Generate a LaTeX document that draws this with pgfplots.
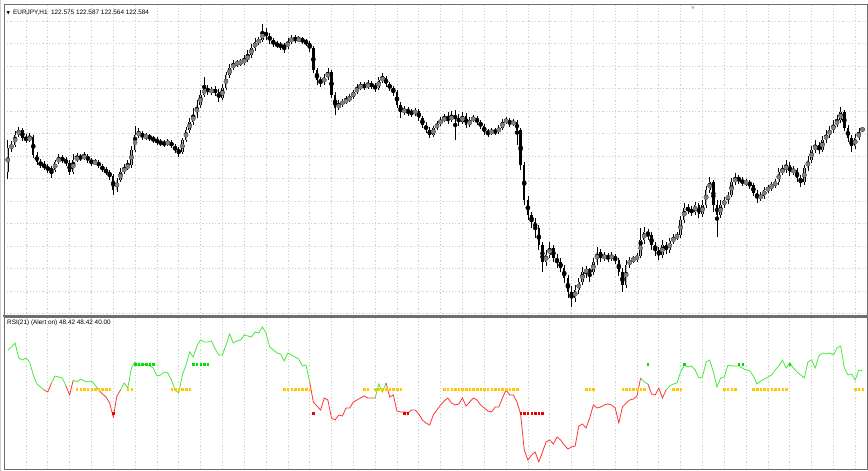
\documentclass[border=0pt]{standalone}
\usepackage{pgfplots}
\pgfplotsset{compat=1.18}
\usepackage{pgfplotstable}
\usepackage{fontspec}
\setmainfont{Liberation Sans}
\newfontfamily\dejavu{DejaVu Sans}

\definecolor{rsigreen}{RGB}{70,235,60}
\definecolor{rsired}{RGB}{255,55,55}
\definecolor{dotyellow}{RGB}{255,200,0}
\definecolor{dotgreen}{RGB}{0,225,0}
\definecolor{dotred}{RGB}{235,0,0}
\definecolor{frame}{RGB}{110,110,110}

% EURJPY H1 bars: bar index, open, high, low, close
\pgfplotstableread{
x o h l c
0 122.15 122.47 122.08 122.39
1 122.39 122.46 122.35 122.42
2 122.42 122.56 122.40 122.52
3 122.52 122.60 122.50 122.57
4 122.57 122.59 122.46 122.49
5 122.49 122.53 122.44 122.47
6 122.47 122.54 122.45 122.50
7 122.50 122.52 122.29 122.32
8 122.32 122.35 122.22 122.25
9 122.25 122.28 122.19 122.22
10 122.22 122.26 122.17 122.20
11 122.20 122.23 122.14 122.17
12 122.17 122.21 122.09 122.17
13 122.17 122.27 122.15 122.25
14 122.25 122.33 122.23 122.29
15 122.29 122.32 122.24 122.27
16 122.27 122.30 122.21 122.24
17 122.24 122.27 122.12 122.15
18 122.15 122.33 122.13 122.27
19 122.27 122.34 122.25 122.30
20 122.30 122.33 122.26 122.29
21 122.29 122.35 122.27 122.31
22 122.31 122.33 122.24 122.27
23 122.27 122.29 122.21 122.24
24 122.24 122.28 122.22 122.25
25 122.25 122.27 122.19 122.21
26 122.21 122.23 122.15 122.17
27 122.17 122.20 122.12 122.15
28 122.15 122.17 122.07 122.11
29 122.11 122.13 121.92 121.97
30 121.97 122.09 121.95 122.07
31 122.07 122.19 122.05 122.15
32 122.15 122.23 122.13 122.19
33 122.19 122.27 122.17 122.22
34 122.22 122.41 122.19 122.37
35 122.37 122.61 122.35 122.52
36 122.52 122.59 122.49 122.54
37 122.54 122.56 122.47 122.50
38 122.50 122.54 122.47 122.51
39 122.51 122.53 122.46 122.49
40 122.49 122.51 122.44 122.47
41 122.47 122.50 122.42 122.45
42 122.45 122.48 122.41 122.44
43 122.44 122.47 122.40 122.43
44 122.43 122.48 122.41 122.45
45 122.45 122.47 122.39 122.41
46 122.41 122.43 122.34 122.37
47 122.37 122.40 122.30 122.35
48 122.35 122.49 122.33 122.47
49 122.47 122.60 122.45 122.57
50 122.57 122.69 122.54 122.65
51 122.65 122.79 122.62 122.72
52 122.72 122.87 122.69 122.82
53 122.82 122.97 122.79 122.92
54 122.92 123.10 122.90 122.99
55 122.99 123.02 122.92 122.95
56 122.95 123.00 122.92 122.97
57 122.97 123.01 122.91 122.95
58 122.95 122.98 122.85 122.89
59 122.89 123.03 122.87 122.99
60 122.99 123.15 122.97 123.12
61 123.12 123.23 123.09 123.19
62 123.19 123.27 123.17 123.23
63 123.23 123.27 123.20 123.24
64 123.24 123.28 123.21 123.25
65 123.25 123.32 123.22 123.27
66 123.27 123.37 123.25 123.32
67 123.32 123.43 123.29 123.39
68 123.39 123.49 123.36 123.45
69 123.45 123.50 123.42 123.47
70 123.47 123.63 123.45 123.55
71 123.55 123.59 123.47 123.51
72 123.51 123.54 123.43 123.47
73 123.47 123.49 123.40 123.43
74 123.43 123.46 123.39 123.42
75 123.42 123.45 123.37 123.41
76 123.41 123.44 123.34 123.40
77 123.40 123.49 123.38 123.45
78 123.45 123.52 123.43 123.49
79 123.49 123.52 123.44 123.47
80 123.47 123.51 123.45 123.48
81 123.48 123.50 123.43 123.46
82 123.46 123.48 123.41 123.44
83 123.44 123.46 123.35 123.39
84 123.39 123.41 123.14 123.17
85 123.17 123.19 123.02 123.07
86 123.07 123.10 123.00 123.05
87 123.05 123.13 123.02 123.09
88 123.09 123.19 123.07 123.15
89 123.15 123.17 122.89 122.92
90 122.92 122.95 122.72 122.79
91 122.79 122.87 122.77 122.83
92 122.83 122.88 122.80 122.85
93 122.85 122.91 122.83 122.87
94 122.87 122.93 122.85 122.90
95 122.90 122.97 122.88 122.95
96 122.95 123.03 122.93 122.99
97 122.99 123.05 122.97 123.02
98 123.02 123.05 122.97 123.00
99 123.00 123.07 122.98 123.03
100 123.03 123.06 122.98 123.01
101 123.01 123.04 122.95 122.99
102 122.99 123.10 122.97 123.07
103 123.07 123.14 123.04 123.09
104 123.09 123.11 123.00 123.03
105 123.03 123.05 122.96 122.99
106 122.99 123.01 122.91 122.95
107 122.95 122.97 122.79 122.82
108 122.82 122.85 122.69 122.75
109 122.75 122.81 122.72 122.77
110 122.77 122.80 122.71 122.75
111 122.75 122.78 122.70 122.74
112 122.74 122.79 122.71 122.76
113 122.76 122.78 122.66 122.69
114 122.69 122.71 122.59 122.62
115 122.62 122.65 122.54 122.57
116 122.57 122.60 122.49 122.52
117 122.52 122.61 122.50 122.59
118 122.59 122.66 122.57 122.63
119 122.63 122.70 122.61 122.67
120 122.67 122.73 122.65 122.69
121 122.69 122.75 122.63 122.67
122 122.67 122.76 122.65 122.71
123 122.71 122.77 122.47 122.69
124 122.69 122.73 122.61 122.65
125 122.65 122.75 122.63 122.71
126 122.71 122.74 122.59 122.62
127 122.62 122.70 122.60 122.67
128 122.67 122.72 122.65 122.69
129 122.69 122.71 122.62 122.65
130 122.65 122.67 122.58 122.61
131 122.61 122.63 122.52 122.55
132 122.55 122.58 122.50 122.54
133 122.54 122.59 122.52 122.56
134 122.56 122.59 122.52 122.55
135 122.55 122.62 122.53 122.59
136 122.59 122.68 122.57 122.65
137 122.65 122.70 122.63 122.67
138 122.67 122.69 122.60 122.63
139 122.63 122.68 122.61 122.65
140 122.65 122.67 122.42 122.57
141 122.57 122.59 122.17 122.22
142 122.22 122.25 121.82 121.87
143 121.87 121.91 121.67 121.72
144 121.72 121.75 121.59 121.65
145 121.65 121.69 121.49 121.59
146 121.59 121.62 121.37 121.42
147 121.42 121.45 121.15 121.25
148 121.25 121.37 121.21 121.32
149 121.32 121.45 121.29 121.39
150 121.39 121.42 121.25 121.29
151 121.29 121.33 121.19 121.25
152 121.25 121.29 121.15 121.19
153 121.19 121.22 121.04 121.09
154 121.09 121.12 120.89 120.95
155 120.95 121.01 120.80 120.89
156 120.89 121.02 120.85 120.97
157 120.97 121.09 120.93 121.05
158 121.05 121.20 121.02 121.15
159 121.15 121.21 121.09 121.17
160 121.17 121.19 121.05 121.15
161 121.15 121.29 121.12 121.25
162 121.25 121.40 121.22 121.35
163 121.35 121.38 121.25 121.29
164 121.29 121.35 121.26 121.31
165 121.31 121.34 121.25 121.29
166 121.29 121.35 121.26 121.31
167 121.31 121.33 121.23 121.27
168 121.27 121.29 121.11 121.15
169 121.15 121.19 120.95 121.02
170 121.02 121.27 120.99 121.22
171 121.22 121.30 121.19 121.27
172 121.27 121.31 121.24 121.28
173 121.28 121.34 121.25 121.31
174 121.31 121.59 121.29 121.47
175 121.47 121.60 121.43 121.55
176 121.55 121.58 121.47 121.52
177 121.52 121.55 121.37 121.42
178 121.42 121.45 121.31 121.37
179 121.37 121.40 121.27 121.32
180 121.32 121.47 121.29 121.42
181 121.42 121.45 121.33 121.37
182 121.37 121.49 121.34 121.46
183 121.46 121.53 121.43 121.49
184 121.49 121.55 121.47 121.52
185 121.52 121.71 121.49 121.67
186 121.67 121.84 121.64 121.79
187 121.79 121.83 121.73 121.77
188 121.77 121.81 121.71 121.75
189 121.75 121.85 121.72 121.82
190 121.82 121.84 121.69 121.73
191 121.73 121.87 121.70 121.82
192 121.82 122.01 121.79 121.97
193 121.97 122.10 121.94 122.05
194 122.05 122.07 121.75 121.82
195 121.82 121.87 121.50 121.72
196 121.72 121.87 121.69 121.82
197 121.82 121.90 121.79 121.87
198 121.87 121.95 121.83 121.92
199 121.92 122.09 121.90 122.05
200 122.05 122.14 122.02 122.09
201 122.09 122.12 122.03 122.07
202 122.07 122.10 122.01 122.04
203 122.04 122.08 122.01 122.05
204 122.05 122.07 121.98 122.02
205 122.02 122.04 121.91 121.94
206 121.94 121.97 121.84 121.89
207 121.89 121.95 121.86 121.91
208 121.91 122.00 121.88 121.97
209 121.97 122.02 121.94 121.99
210 121.99 122.05 121.96 122.02
211 122.02 122.08 121.99 122.05
212 122.05 122.19 122.02 122.15
213 122.15 122.22 122.12 122.17
214 122.17 122.27 122.14 122.22
215 122.22 122.25 122.11 122.15
216 122.15 122.21 122.12 122.17
217 122.17 122.19 122.05 122.09
218 122.09 122.12 122.00 122.05
219 122.05 122.22 122.02 122.19
220 122.19 122.31 122.16 122.27
221 122.27 122.41 122.24 122.37
222 122.37 122.47 122.34 122.42
223 122.42 122.45 122.33 122.37
224 122.37 122.51 122.35 122.47
225 122.47 122.57 122.44 122.52
226 122.52 122.61 122.49 122.57
227 122.57 122.67 122.54 122.62
228 122.62 122.72 122.60 122.67
229 122.67 122.80 122.64 122.75
230 122.75 122.77 122.56 122.59
231 122.59 122.62 122.45 122.49
232 122.49 122.52 122.35 122.41
233 122.41 122.53 122.38 122.49
234 122.49 122.59 122.47 122.55
235 122.575 122.587 122.564 122.584
}\ohlc

% RSI(21) per bar
\pgfplotstableread{
x v
0 65.6
1 66.8
2 68.4
3 62.4
4 61.6
5 62.4
6 60.8
7 55.6
8 52.0
9 50.8
10 49.6
11 48.8
12 52.4
13 55.2
14 54.8
15 54.4
16 51.2
17 47.6
18 53.6
19 52.8
20 54.0
21 53.2
22 52.8
23 53.2
24 51.6
25 49.6
26 48.0
27 46.8
28 44.4
29 38.8
30 47.2
31 49.6
32 52.4
33 50.4
34 58.4
35 60.8
36 59.2
37 59.6
38 60.0
39 59.2
40 58.4
41 55.2
42 55.6
43 56.8
44 56.4
45 53.6
46 49.6
47 48.4
48 55.6
49 59.6
50 64.8
51 62.8
52 67.2
53 69.6
54 68.8
55 68.8
56 69.2
57 66.0
58 63.6
59 63.6
60 67.6
61 72.0
62 68.4
63 69.2
64 69.6
65 71.6
66 71.2
67 70.8
68 72.8
69 72.4
70 74.8
71 72.4
72 66.8
73 65.6
74 64.4
75 64.0
76 61.2
77 64.4
78 63.6
79 62.8
80 62.0
81 59.2
82 59.6
83 52.8
84 44.8
85 43.2
86 41.6
87 46.4
88 45.6
89 38.4
90 37.6
91 39.6
92 39.2
93 42.4
94 42.4
95 44.8
96 45.6
97 46.4
98 47.2
99 46.4
100 46.4
101 46.4
102 52.0
103 48.8
104 52.4
105 46.8
106 47.6
107 41.2
108 40.8
109 40.8
110 40.4
111 41.6
112 41.6
113 40.0
114 37.6
115 36.4
116 35.6
117 39.6
118 41.6
119 43.6
120 45.2
121 46.4
122 44.4
123 43.6
124 44.0
125 46.4
126 43.2
127 44.8
128 46.4
129 45.6
130 43.6
131 42.4
132 41.2
133 40.8
134 42.8
135 42.8
136 46.4
137 49.6
138 47.6
139 47.6
140 44.8
141 40.0
142 25.6
143 21.6
144 23.6
145 24.8
146 20.8
147 24.8
148 28.8
149 29.6
150 28.0
151 30.8
152 29.6
153 27.6
154 26.0
155 26.8
156 27.2
157 35.2
158 36.0
159 34.4
160 38.4
161 43.6
162 42.4
163 42.8
164 43.6
165 44.0
166 43.6
167 42.4
168 36.4
169 42.8
170 44.4
171 45.6
172 46.0
173 47.2
174 54.4
175 52.8
176 52.0
177 48.0
178 47.6
179 50.4
180 46.4
181 49.6
182 51.2
183 52.0
184 52.4
185 56.8
186 59.6
187 58.8
188 59.2
189 57.6
190 54.4
191 54.8
192 60.8
193 61.6
194 56.8
195 50.8
196 54.4
197 54.8
198 59.6
199 59.2
200 59.2
201 59.2
202 58.4
203 57.6
204 57.2
205 55.2
206 52.0
207 53.2
208 54.0
209 54.8
210 55.6
211 57.6
212 59.2
213 61.6
214 58.4
215 60.4
216 58.4
217 56.8
218 55.6
219 54.4
220 60.8
221 61.6
222 58.4
223 63.2
224 64.4
225 64.0
226 64.4
227 63.6
228 66.4
229 67.2
230 58.4
231 55.6
232 56.0
233 53.6
234 57.6
235 57.2
}\rsi

\pgfplotsset{
  mtpanel/.style={
    anchor=south west, scale only axis, width=863pt,
    xmin=-1.045, xmax=236.24,
    xtick={5,11,...,233}, xticklabel=\empty, yticklabel=\empty,
    tick style={draw=none}, xmajorgrids,
    grid style={gray!38, dash pattern=on 1.2pt off 2pt, line width=0.7pt},
    axis line style={frame, line width=0.9pt},
  },
  rsiline/.style={line width=0.8pt, mark=none},
  dots/.style={only marks, mark=square*, mark size=0.75pt},
}

\begin{document}
\begin{tikzpicture}
\useasboundingbox (0pt,0pt) rectangle (868pt,471pt);
\fill[white] (0pt,0pt) rectangle (868pt,471pt);

% price window
\begin{axis}[mtpanel, at={(4pt,155pt)}, height=312pt,
  ymin=120.71, ymax=123.83, ymajorgrids,
  ytick={120.735,120.96,121.185,121.41,121.635,121.86,122.085,122.31,122.535,122.76,122.985,123.21,123.435,123.66}]
  % wicks
  \addplot[black, only marks, mark=none,
    error bars/.cd, y dir=both, y explicit, error mark=none,
    error bar style={line width=0.7pt, black}]
    table[x=x, y expr=(\thisrow{h}+\thisrow{l})/2,
          y error expr=(\thisrow{h}-\thisrow{l})/2] \ohlc;
  % bodies
  \addplot[black, only marks, mark=none,
    error bars/.cd, y dir=both, y explicit, error mark=none,
    error bar style={line width=2.4pt, black}]
    table[x=x, y expr=(\thisrow{o}+\thisrow{c})/2,
          y error expr=abs(\thisrow{c}-\thisrow{o})/2] \ohlc;
  % hollow part of rising bars
  \addplot[gray, only marks, mark=none,
    error bars/.cd, y dir=both, y explicit, error mark=none,
    error bar style={line width=1.0pt, gray!55}]
    table[x=x, y expr={\thisrow{c}>\thisrow{o} ? (\thisrow{o}+\thisrow{c})/2 : nan},
          y error expr=(\thisrow{c}-\thisrow{o})/2-0.004] \ohlc;
\end{axis}

% RSI window
\begin{axis}[mtpanel, at={(4pt,2pt)}, height=152pt,
  ymin=18, ymax=78.8, ytick=\empty]
  \addplot[rsigreen, rsiline, restrict x to domain=0:10] table[x=x, y=v] \rsi;
  \addplot[rsired, rsiline, restrict x to domain=10:12] table[x=x, y=v] \rsi;
  \addplot[rsigreen, rsiline, restrict x to domain=12:16] table[x=x, y=v] \rsi;
  \addplot[rsired, rsiline, restrict x to domain=16:18] table[x=x, y=v] \rsi;
  \addplot[rsigreen, rsiline, restrict x to domain=18:25] table[x=x, y=v] \rsi;
  \addplot[rsired, rsiline, restrict x to domain=25:31] table[x=x, y=v] \rsi;
  \addplot[rsigreen, rsiline, restrict x to domain=31:83] table[x=x, y=v] \rsi;
  \addplot[rsired, rsiline, restrict x to domain=83:101] table[x=x, y=v] \rsi;
  \addplot[rsigreen, rsiline, restrict x to domain=101:104] table[x=x, y=v] \rsi;
  \addplot[rsired, rsiline, restrict x to domain=104:174] table[x=x, y=v] \rsi;
  \addplot[rsigreen, rsiline, restrict x to domain=174:176] table[x=x, y=v] \rsi;
  \addplot[rsired, rsiline, restrict x to domain=176:181] table[x=x, y=v] \rsi;
  \addplot[rsigreen, rsiline, restrict x to domain=181:235] table[x=x, y=v] \rsi;
  % alert dots
  \addplot[dots, dotyellow] coordinates {
    (19,50)(20,50)(21,50)(22,50)(23,50)(24,50)(25,50)(26,50)(27,50)(28,50)
    (33,50)(34,50)(45,50)(46,50)(47,50)(48,50)(49,50)(50,50)
    (76,50)(77,50)(78,50)(79,50)(80,50)(81,50)(82,50)(83,50)(98,50)(99,50)
    (101,50)(102,50)(103,50)(104,50)(105,50)(106,50)(107,50)(108,50)
    (120,50)(121,50)(122,50)(123,50)(124,50)(125,50)(126,50)(127,50)(128,50)(129,50)
    (130,50)(131,50)(132,50)(133,50)(134,50)(135,50)(136,50)(137,50)(138,50)(139,50)(140,50)
    (159,50)(160,50)(161,50)(169,50)(170,50)(171,50)(172,50)(173,50)(174,50)(175,50)
    (183,50)(184,50)(185,50)(197,50)(198,50)(199,50)(200,50)
    (205,50)(206,50)(207,50)(208,50)(209,50)(210,50)(211,50)(212,50)(213,50)(214,50)
    (233,50)(234,50)(235,50)};
  \addplot[dots, dotgreen] coordinates {
    (35,60)(36,60)(37,60)(38,60)(39,60)(40,60)(51,60)(52,60)(53,60)(54,60)(55,60)
    (176,60)(186,60)(201,60)(202,60)(215,60)};
  \addplot[dots, dotred] coordinates {
    (29,40.4)(84,40.4)(109,40.4)(110,40.4)
    (141,40.4)(142,40.4)(143,40.4)(144,40.4)(145,40.4)(146,40.4)(147,40.4)};
\end{axis}

% window separator and outer edge
\draw[frame, line width=2.4pt] (3pt,155pt) -- (867pt,155pt);
\draw[gray!35, line width=1pt] (0.5pt,0pt) -- (0.5pt,471pt);

\node[anchor=west, inner sep=0pt, font=\dejavu\fontsize{4.5}{5}\selectfont] at (6.5pt,458pt) {▼};
\node[anchor=west, inner sep=0pt, font=\fontsize{6.4}{7.5}\selectfont] at (13pt,458pt)
  {EURJPY,H1 \ 122.575 122.587 122.564 122.584};
\node[anchor=west, inner sep=0pt, font=\fontsize{6.4}{7.5}\selectfont] at (7pt,148pt)
  {RSI(21) (Alert on) 48.42 48.42 40.00};
\node[inner sep=0pt, text=gray!70, font=\dejavu\fontsize{4}{5}\selectfont] at (693pt,463pt) {▼};
\end{tikzpicture}
\end{document}
